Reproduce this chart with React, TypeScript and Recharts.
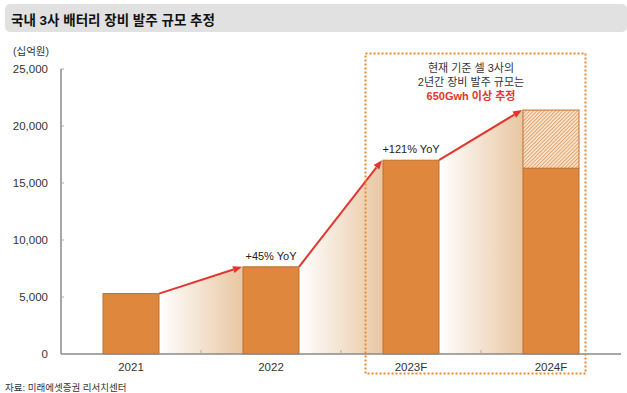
import React from "react";
import { Bar, BarChart, LabelList, XAxis, YAxis } from "recharts";

// 국내 3사 배터리 장비 발주 규모 (십억원)
const categories = ["2021", "2022", "2023F", "2024F"];
const baseValues = [5300, 7650, 17000, 16300];
const extraValues = [0, 0, 0, 5100];
const yoyLabels = ["", "+45% YoY", "+121% YoY", ""];
const yTicks = [0, 5000, 10000, 15000, 20000, 25000];

const W = 627;
const H = 393;
const MARGIN = { top: 69, right: 6, left: 0, bottom: 9 };
const Y_AXIS_W = 61;
const X_AXIS_H = 30;
const PLOT_W = W - MARGIN.left - MARGIN.right - Y_AXIS_W;
const STEP = PLOT_W / categories.length;
const AXIS_X = MARGIN.left + Y_AXIS_W;

const FONT = "'Liberation Sans', Arial, 'Noto Sans CJK KR', sans-serif";
const BAR_FILL = "#de873d";
const BAR_STROKE = "#c2702e";
const RED = "#e2352e";
const AXIS = "#8a8a8a";

const data = categories.map((name, i) => ({
  name,
  base: baseValues[i],
  extra: extraValues[i],
  yoy: yoyLabels[i],
}));

function BaseShape(props: any) {
  const { x, y, width, height, index, payload } = props;
  if (!height || height <= 0) return null;
  const pxPerUnit = height / payload.base;
  const baseline = y + height;
  let connector = null;
  if (index < categories.length - 1) {
    const nextTotal = baseValues[index + 1] + extraValues[index + 1];
    const x0 = x + width;
    const y0 = y;
    const x1 = x + STEP - 1;
    const y1 = baseline - nextTotal * pxPerUnit;
    const len = Math.hypot(x1 - x0, y1 - y0);
    const dx = (x1 - x0) / len;
    const dy = (y1 - y0) / len;
    const head = 9;
    const half = 3.6;
    const bx = x1 - dx * head;
    const by = y1 - dy * head;
    connector = (
      <g>
        <polygon
          points={`${x0},${y0} ${x1 + 1},${y1} ${x1 + 1},${baseline} ${x0},${baseline}`}
          fill="url(#shade)"
        />
        <line x1={x0} y1={y0} x2={bx} y2={by} stroke={RED} strokeWidth={2} />
        <polygon
          points={`${x1},${y1} ${bx - dy * half},${by + dx * half} ${bx + dy * half},${by - dx * half}`}
          fill={RED}
        />
      </g>
    );
  }
  return (
    <g>
      {connector}
      <rect x={x} y={y} width={width} height={height} fill={BAR_FILL} stroke={BAR_STROKE} strokeWidth={1} />
    </g>
  );
}

function ExtraShape(props: any) {
  const { x, y, width, height } = props;
  if (!height || height <= 0) return null;
  return <rect x={x} y={y} width={width} height={height} fill="url(#hatch)" stroke={BAR_STROKE} strokeWidth={1} />;
}

function YoyLabel(props: any) {
  const { x, y, width, value } = props;
  if (!value) return null;
  return (
    <text x={x + width / 2} y={y - 7} textAnchor="middle" fontSize={11} fill="#222" fontFamily={FONT}>
      {value}
    </text>
  );
}

function YTick(props: any) {
  const { x, y, payload } = props;
  return (
    <g>
      {payload.value > 0 && <line x1={AXIS_X} y1={y} x2={AXIS_X + 3} y2={y} stroke="#aaa" />}
      <text x={x} y={y} dy={4} textAnchor="end" fontSize={11.5} fill="#333" fontFamily={FONT}>
        {payload.value.toLocaleString("en-US")}
      </text>
    </g>
  );
}

function XTick(props: any) {
  const { x, y, payload, index } = props;
  return (
    <g>
      {index < categories.length - 1 && (
        <line x1={x + STEP / 2} y1={y} x2={x + STEP / 2} y2={y - 4} stroke="#aaa" />
      )}
      <text x={x} y={y} dy={17} textAnchor="middle" fontSize={11.5} fill="#333" fontFamily={FONT}>
        {payload.value}
      </text>
    </g>
  );
}

export default function App() {
  return (
    <div style={{ position: "relative", width: W, height: H, background: "#fff", fontFamily: FONT, overflow: "hidden" }}>
      <style>{`body{margin:0}`}</style>
      <div
        style={{
          position: "absolute",
          left: 5,
          top: 4,
          width: 622,
          height: 28,
          background: "#e1e1e1",
          borderRadius: 5,
        }}
      />
      <div style={{ position: "absolute", left: 11, top: 9, fontSize: 13.5, fontWeight: 700, color: "#111" }}>
        국내 3사 배터리 장비 발주 규모 추정
      </div>
      <div style={{ position: "absolute", left: 13, top: 43, fontSize: 10.5, color: "#333" }}>(십억원)</div>

      <BarChart width={W} height={H} data={data} margin={MARGIN} barSize={56}>
        <defs>
          <linearGradient id="shade" x1="0" y1="0" x2="1" y2="0">
            <stop offset="0" stopColor="#ffffff" />
            <stop offset="1" stopColor="#e9c6a1" />
          </linearGradient>
          <pattern id="hatch" width="2.6" height="2.6" patternUnits="userSpaceOnUse" patternTransform="rotate(45)">
            <rect width="2.6" height="2.6" fill="#fcf1e5" />
            <line x1="0.6" y1="0" x2="0.6" y2="2.6" stroke="#e79a58" strokeWidth="1.1" />
          </pattern>
        </defs>
        <XAxis
          dataKey="name"
          height={X_AXIS_H}
          axisLine={{ stroke: AXIS, strokeWidth: 1.5 }}
          tickLine={false}
          tickSize={0}
          tickMargin={0}
          tick={<XTick />}
          interval={0}
        />
        <YAxis
          width={Y_AXIS_W}
          domain={[0, 25000]}
          ticks={yTicks}
          axisLine={{ stroke: AXIS, strokeWidth: 1.5 }}
          tickLine={false}
          tickSize={0}
          tickMargin={13}
          tick={<YTick />}
          interval={0}
        />
        <Bar dataKey="base" stackId="a" shape={<BaseShape />} isAnimationActive={false}>
          <LabelList dataKey="yoy" content={<YoyLabel />} />
        </Bar>
        <Bar dataKey="extra" stackId="a" shape={<ExtraShape />} isAnimationActive={false} />
      </BarChart>

      <svg width={W} height={H} style={{ position: "absolute", left: 0, top: 0, pointerEvents: "none" }}>
        <rect x={365.5} y={53.5} width={220} height={320} fill="none" stroke="#e8893a" strokeWidth={2} strokeDasharray="2 2" />
      </svg>
      <div
        style={{
          position: "absolute",
          left: 396,
          top: 61,
          width: 150,
          textAlign: "center",
          fontSize: 11,
          lineHeight: "14px",
          color: "#333",
        }}
      >
        <div>현재 기준 셀 3사의</div>
        <div>2년간 장비 발주 규모는</div>
        <div style={{ color: RED, fontWeight: 700 }}>650Gwh 이상 추정</div>
      </div>
      <div style={{ position: "absolute", left: 5, top: 380, fontSize: 9.5, color: "#333" }}>
        자료: 미래에셋증권 리서치센터
      </div>
    </div>
  );
}
